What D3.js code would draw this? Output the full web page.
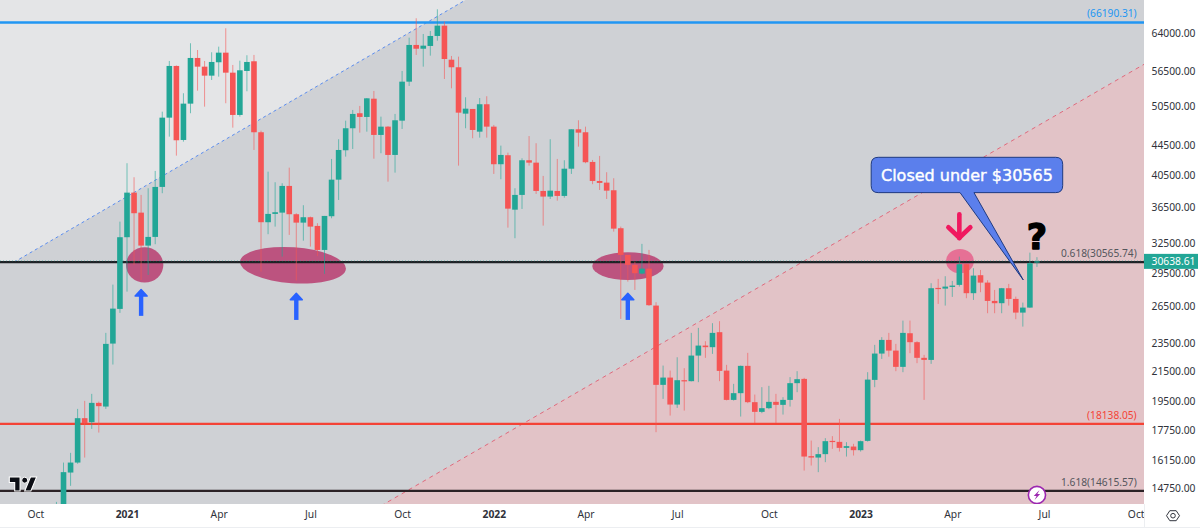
<!DOCTYPE html>
<html>
<head>
<meta charset="utf-8">
<title>BTC weekly</title>
<script src="https://d3js.org/d3.v7.min.js"></script>
<style>
    html, body { margin: 0; padding: 0; background: #fff; }
    svg { display: block; font-family: "Noto Sans", sans-serif; }
</style>
</head>
<body>
<script>
// weekly candles, first one is the week of 26 Oct 2020
var firstWeek = Date.UTC(2020, 9, 26);
var weekOpen = [
    13525,13745,15504,16011,18476,18240,19411,19181,23502,26283,
    33121,38244,35855,32237,33153,38954,48708,57546,45324,50959,
    59048,57416,55775,58235,60067,56315,49135,56622,58421,46467,
    34762,35706,35855,39080,35671,34717,35327,34350,31789,35441,
    39878,43843,47070,49405,48818,51777,46067,47315,43189,48236,
    54703,61579,60836,61380,63392,65533,58719,57304,49341,50092,
    46557,50860,47315,41913,43147,36199,37962,42453,42128,38452,
    37760,38452,37840,41313,46913,46467,42223,39712,39497,38537,
    34095,31284,30292,29453,29930,26566,20572,21061,19306,20884,
    20818,22610,23351,23231,24382,21541,19598,20028,21872,19455,
    18856,19081,19474,19287,19598,20685,20972,16346,16272,16452,
    17171,17117,16789,16860,16664,17171,20904,22757,23781,22976,
    21801,24300,23608,22446,22296,28125,28061,28216,28400,30360,
    27650,29302,28610,26969,26772,28097,27144,25972,26395,30560];
var weekHigh = [
    14104,16011,16521,19038,19536,19983,19492,24327,28427,34828,
    42048,40191,37962,38789,41014,49658,58477,57640,52696,61917,
    60586,58477,60144,61241,64982,57732,58533,59567,59625,46705,
    40922,39548,39422,41454,35786,36722,35396,34650,35475,42632,
    45428,48236,49928,50583,51891,53085,48866,47400,49294,56622,
    63043,67113,63795,64417,69082,66381,59432,59300,52020,50092,
    51891,52190,47576,44503,43509,38789,42722,45900,44850,40361,
    45428,42632,42453,46913,48297,47315,42493,43050,40844,40061,
    34273,31284,30614,32414,31789,26858,21893,21541,22487,21709,
    24327,24722,23683,25100,25261,21942,20638,21893,22808,19938,
    20419,20505,19983,19771,21090,21500,21041,17188,16827,17322,
    17435,18434,17100,17008,17188,21431,23404,23992,24327,23479,
    25309,25309,23683,22662,28555,28951,29207,28766,31113,30390,
    29968,29803,28830,27942,28125,28490,27347,26824,31516,31055];
var weekLow = [
    13309,13525,14853,15950,16272,17849,17638,19038,21964,25947,
    27791,30292,28857,29330,32382,38170,45814,43092,45079,49405,
    53136,50468,55000,55595,51024,47162,48866,53034,43885,29642,
    33443,34273,31113,33368,28793,32757,32133,31184,29424,35210,
    37350,42952,44029,46408,46557,42673,43426,39624,40792,46962,
    53953,59625,57416,59490,62433,55180,53541,41723,47070,45576,
    45665,45665,40622,39930,34161,33013,36284,41723,38084,34384,
    37468,37267,37622,40622,44360,42048,39300,38574,37468,33723,
    25448,28702,27942,29380,26540,17661,19662,18633,19100,18934,
    20805,20751,22446,22735,20818,19567,19554,18573,19393,18182,
    18777,19019,18182,18693,19181,20092,15603,15858,15524,16032,
    16735,16590,16325,16378,16590,17133,20419,22367,22530,21500,
    21431,22786,22063,19598,22013,26712,26566,27321,28244,27206,
    27055,27738,25920,25920,25920,26566,25423,24826,26371,30095];
var weekClose = [
    13745,15524,16011,18476,18182,19411,19206,23479,26308,33121,
    38244,35786,32237,33153,38954,48708,57546,45281,50959,59048,
    57416,55775,58291,60067,56315,49135,56748,58291,46467,34762,
    35706,35901,39080,35671,34717,35327,34273,31789,35475,39878,
    43885,47070,49294,48818,51842,46067,47315,43189,48297,54703,
    61579,60836,61440,63392,65533,58849,57304,49500,50140,46809,
    50860,47315,41913,43189,36319,37962,42453,42128,38452,37760,
    38488,37840,41313,46913,46408,42183,39712,39460,38488,34050,
    31284,30292,29491,29930,26600,20572,21061,19306,20884,20818,
    22610,23351,23231,24327,21520,19598,20028,21872,19455,18856,
    19081,19474,19287,19598,20685,20952,16325,16272,16452,17155,
    17117,16789,16882,16664,17155,20924,22757,23781,22976,21801,
    24327,23608,22446,22296,28097,28061,28244,28335,30360,27650,
    29264,28610,26969,26772,28097,27144,25972,26395,30460,30638.61];

var lastPrice = 30638.61;
var priceTicks = [72000,64000,56500,50500,44500,40500,36500,32500,29500,26500,23500,21500,19500,17750,16150,14750];
var timeTickDates = ["2020-10-05","2021-01-04","2021-04-05","2021-07-05","2021-10-04","2022-01-03","2022-04-04","2022-07-04","2022-10-03","2023-01-02","2023-04-03","2023-07-03","2023-10-02"];
var timeTickLabels = ["Oct","2021","Apr","Jul","Oct","2022","Apr","Jul","Oct","2023","Apr","Jul","Oct"];

// horizontal levels: price, colour, label
var levelPrices = [66190.31, 30565.74, 18138.05, 14615.57];
var levelColors = ["#2196f3", "#1e2226", "#f44336", "#2b2226"];
var levelLabels = ["(66190.31)", "0.618(30565.74)", "(18138.05)", "1.618(14615.57)"];
var levelLabelColors = ["#2196f3", "#54565c", "#f44336", "#54565c"];

// sloped channel lines, [date, price] at both ends
var blueTrend = [["2020-09-14", 30565.74], ["2021-12-06", 71187]];
var redTrend = [["2021-09-13", 13923], ["2023-10-16", 58477]];

// highlighted zones in week units from 4 Jan 2021 / prices
var zoneWeeks = [[-0.14, 5.15], [16, 31.05], [65.96, 76.08], [116.1, 120.07]];
var zonePrices = [[32070, 28610], [32070, 28555], [31560, 28857], [31890, 29491]];
var zoneColors = ["rgba(180,30,90,.7)", "rgba(180,30,90,.7)", "rgba(180,30,90,.7)", "rgba(233,30,99,.5)"];
var zoneTilt = [0, 4, 0, 0];

var upArrowWeeks = [2, 24, 71];
var upArrowPrices = [[27970, 25700], [27650, 25365], [27650, 25365]];
var downArrowWeek = 118, downArrowPrices = [35786, 32905];

var width = 1200, height = 528, plotW = 1144, plotH = 504;
var green = "#22a696", red = "#f55555";

var x = d3.scaleUtc().domain([new Date("2021-01-04"), new Date("2023-07-03")]).range([127, 1044]);
var y = d3.scaleLog().domain([64000, 14750]).range([33, 488]);

function weekX(k) {
    return x(new Date(Date.UTC(2021, 0, 4) + k * 7 * 864e5));
}
function barX(i) {
    return x(new Date(firstWeek + i * 7 * 864e5));
}

var svg = d3.select("body").append("svg").attr("width", width).attr("height", height);
svg.append("defs").append("clipPath").attr("id", "plot")
    .append("rect").attr("width", plotW).attr("height", plotH);

var plot = svg.append("g").attr("clip-path", "url(#plot)");
plot.append("rect").attr("width", plotW).attr("height", plotH).attr("fill", "#cfd1d5");

// pale zone above the blue line, pink below the red one
var b0 = [x(new Date(blueTrend[0][0])), y(blueTrend[0][1])], b1 = [x(new Date(blueTrend[1][0])), y(blueTrend[1][1])];
var r0 = [x(new Date(redTrend[0][0])), y(redTrend[0][1])], r1 = [x(new Date(redTrend[1][0])), y(redTrend[1][1])];
plot.append("path")
    .attr("d", d3.line()([[0, 0], [b1[0], 0], b1, b0, [0, b0[1]]]))
    .attr("fill", "#e4e5e7");
plot.append("path")
    .attr("d", d3.line()([r0, r1, [r1[0], plotH], [r0[0], plotH]]))
    .attr("fill", "#e2c3c7");
plot.append("line").attr("x1", b0[0]).attr("y1", b0[1]).attr("x2", b1[0]).attr("y2", b1[1])
    .attr("stroke", "#5b8def").attr("stroke-dasharray", "3,3");
plot.append("line").attr("x1", r0[0]).attr("y1", r0[1]).attr("x2", r1[0]).attr("y2", r1[1])
    .attr("stroke", "#e0697c").attr("stroke-dasharray", "4,4");

// zones
plot.selectAll(".zone").data(zoneWeeks).enter().append("ellipse")
    .attr("class", "zone")
    .each(function(d, i) {
        var x0 = weekX(d[0]), x1 = weekX(d[1]), y0 = y(zonePrices[i][0]), y1 = y(zonePrices[i][1]);
        var cx = (x0 + x1) / 2, cy = (y0 + y1) / 2;
        d3.select(this)
            .attr("cx", cx).attr("cy", cy)
            .attr("rx", (x1 - x0) / 2).attr("ry", (y1 - y0) / 2)
            .attr("fill", zoneColors[i])
            .attr("transform", "rotate(" + zoneTilt[i] + " " + cx + " " + cy + ")");
    });

// levels
plot.selectAll(".level").data(levelPrices).enter().append("line")
    .attr("class", "level")
    .attr("x1", 0).attr("x2", plotW)
    .attr("y1", function(d) { return y(d); }).attr("y2", function(d) { return y(d); })
    .attr("stroke", function(d, i) { return levelColors[i]; })
    .attr("stroke-width", 2.4);
plot.append("line").attr("x1", 0).attr("x2", plotW)
    .attr("y1", y(lastPrice) - 0.6).attr("y2", y(lastPrice) - 0.6)
    .attr("stroke", "#3fa79b").attr("stroke-opacity", 0.5).attr("stroke-dasharray", "1,2");

// candles
var idx = d3.range(weekOpen.length);
var candle = plot.selectAll(".candle").data(idx).enter().append("g").attr("class", "candle");
candle.append("line")
    .attr("x1", barX).attr("x2", barX)
    .attr("y1", function(i) { return y(weekHigh[i]); })
    .attr("y2", function(i) { return y(weekLow[i]); })
    .attr("stroke", function(i) { return weekClose[i] >= weekOpen[i] ? green : red; })
    .attr("stroke-opacity", 0.6);
candle.append("rect")
    .attr("x", function(i) { return barX(i) - 2.8; })
    .attr("width", 5.6)
    .attr("y", function(i) { return y(Math.max(weekOpen[i], weekClose[i])); })
    .attr("height", function(i) { return Math.max(1.2, Math.abs(y(weekOpen[i]) - y(weekClose[i]))); })
    .attr("fill", function(i) { return weekClose[i] >= weekOpen[i] ? green : red; });

// level labels
plot.selectAll(".levelLabel").data(levelLabels).enter().append("text")
    .attr("class", "levelLabel")
    .attr("x", 1136.7)
    .attr("y", function(d, i) { return y(levelPrices[i]) - 8.7; })
    .attr("dy", "0.35em")
    .attr("text-anchor", "end")
    .attr("font-size", 10.2)
    .attr("fill", function(d, i) { return levelLabelColors[i]; })
    .text(function(d) { return d; });

// arrows
var up = plot.selectAll(".up").data(upArrowWeeks).enter().append("g").attr("class", "up")
    .attr("stroke", "#2962ff").attr("fill", "none").attr("stroke-width", 4.4);
up.append("line")
    .attr("x1", function(d) { return weekX(d); }).attr("x2", function(d) { return weekX(d); })
    .attr("y1", function(d, i) { return y(upArrowPrices[i][0]) + 2; })
    .attr("y2", function(d, i) { return y(upArrowPrices[i][1]); });
up.append("path")
    .attr("fill", "#2962ff").attr("stroke-width", 1.5).attr("stroke-linejoin", "round")
    .attr("d", function(d, i) {
        var px = weekX(d), py = y(upArrowPrices[i][0]);
        return d3.line()([[px, py], [px + 6, py + 6.5], [px - 6, py + 6.5]]) + "Z";
    });
var dx = weekX(downArrowWeek), dTop = y(downArrowPrices[0]), dBot = y(downArrowPrices[1]);
var down = plot.append("g").attr("stroke", "#f0185f").attr("stroke-width", 4.6).attr("fill", "none")
    .attr("stroke-linecap", "round").attr("stroke-linejoin", "round");
down.append("line").attr("x1", dx).attr("x2", dx).attr("y1", dTop + 1).attr("y2", dBot - 1);
down.append("path").attr("d", d3.line()([[dx - 11, dBot - 12], [dx, dBot - 1.5], [dx + 11, dBot - 12]]));

// question mark
plot.append("text")
    .attr("x", weekX(129)).attr("y", y(31860))
    .attr("text-anchor", "middle")
    .attr("font-family", "DejaVu Sans").attr("font-weight", "bold").attr("font-size", 35)
    .attr("fill", "#000").attr("stroke", "#000").attr("stroke-width", 1.4).attr("stroke-linejoin", "round")
    .text("?");

// balloon
var bl = weekX(105.5), br = weekX(132.65), bt = y(42860), bb = y(38244);
plot.append("path")
    .attr("d", "M" + (bl + 7) + "," + bt + "H" + (br - 7) + "Q" + br + "," + bt + " " + br + "," + (bt + 7)
        + "V" + (bb - 7) + "Q" + br + "," + bb + " " + (br - 7) + "," + bb
        + "H" + weekX(120.07) + "L" + weekX(127.06) + "," + y(28857) + "L" + weekX(118.1) + "," + bb
        + "H" + (bl + 7) + "Q" + bl + "," + bb + " " + bl + "," + (bb - 7)
        + "V" + (bt + 7) + "Q" + bl + "," + bt + " " + (bl + 7) + "," + bt + "Z")
    .attr("fill", "#5b7fec")
    .attr("stroke", "#1f3a80")
    .attr("stroke-width", 1);
plot.append("text")
    .attr("x", (bl + br) / 2).attr("y", (bt + bb) / 2)
    .attr("dy", "0.36em")
    .attr("text-anchor", "middle")
    .attr("font-family", "DejaVu Sans")
    .attr("font-size", 16)
    .attr("fill", "#fff").attr("stroke", "#fff").attr("stroke-width", 0.4)
    .text("Closed under $30565");

// TradingView mark
plot.append("path")
    .attr("transform", "translate(9.3,474) scale(.77)")
    .attr("d", "M14 22H7V11H0V4h14v18zM28 22h-8l7.5-18h8L28 22z")
    .attr("fill", "#0c0e15").attr("stroke", "#fff").attr("stroke-width", 1.4);
plot.append("circle").attr("cx", 24.7).attr("cy", 480.2).attr("r", 3)
    .attr("fill", "#0c0e15").attr("stroke", "#fff").attr("stroke-width", 1);

// bolt badge on the bottom level
var boltX = weekX(129), boltY = y(14422);
plot.append("circle").attr("cx", boltX).attr("cy", boltY).attr("r", 8.6)
    .attr("fill", "#fff").attr("stroke", "#9c27b0").attr("stroke-width", 1.6);
plot.append("path")
    .attr("transform", "translate(" + boltX + "," + boltY + ")")
    .attr("d", "M2.6,-5 L-3.2,1 L-0.4,1 L-2.4,5 L3.2,-1 L0.4,-1 Z")
    .attr("fill", "#9c27b0");

// price axis
var yAxis = svg.append("g")
    .attr("transform", "translate(" + plotW + ",0)")
    .call(d3.axisRight(y).tickValues(priceTicks).tickSize(0).tickPadding(7.5).tickFormat(d3.format(".2f")));
yAxis.select(".domain").remove();
yAxis.selectAll("text").attr("font-size", 10.3).attr("font-family", "Noto Sans").attr("fill", "#2f323a");

// time axis
var xAxis = svg.append("g")
    .attr("transform", "translate(0," + plotH + ")")
    .call(d3.axisBottom(x)
        .tickValues(timeTickDates.map(function(d) { return new Date(d); }))
        .tickSize(0).tickPadding(7)
        .tickFormat(function(d, i) { return timeTickLabels[i]; }));
xAxis.select(".domain").remove();
xAxis.selectAll("text")
    .attr("font-size", 10.3).attr("font-family", "Noto Sans").attr("fill", "#2f323a")
    .attr("font-weight", function(d, i) { return /^20/.test(timeTickLabels[i]) ? "bold" : "normal"; });

// white out past the plot edge so the last tick stops at the price scale
svg.append("rect").attr("x", plotW).attr("y", plotH).attr("width", width - plotW).attr("height", height - plotH).attr("fill", "#fff");
svg.append("line").attr("x1", plotW + 0.5).attr("x2", plotW + 0.5).attr("y1", plotH).attr("y2", height - 1).attr("stroke", "#eceef1");
svg.append("line").attr("x1", 0).attr("x2", width).attr("y1", height - 0.5).attr("y2", height - 0.5).attr("stroke", "#eceef1");

// last price tag
var tagY = y(lastPrice);
svg.append("rect").attr("x", plotW).attr("y", tagY - 7.5).attr("width", 54).attr("height", 15).attr("fill", "#22a696");
svg.append("text").attr("x", plotW + 7.5).attr("y", tagY).attr("dy", "0.35em")
    .attr("font-size", 10.3).attr("fill", "#fff").text(lastPrice.toFixed(2));

// settings gear
var gear = svg.append("g").attr("transform", "translate(1173,515.7)").attr("fill", "none").attr("stroke", "#33363f").attr("stroke-width", 1);
gear.append("path").attr("d", d3.line()([[-6.5, 0], [-3.2, -5], [3.2, -5], [6.5, 0], [3.2, 5], [-3.2, 5]]) + "Z");
gear.append("circle").attr("r", 2.3);
</script>
</body>
</html>
